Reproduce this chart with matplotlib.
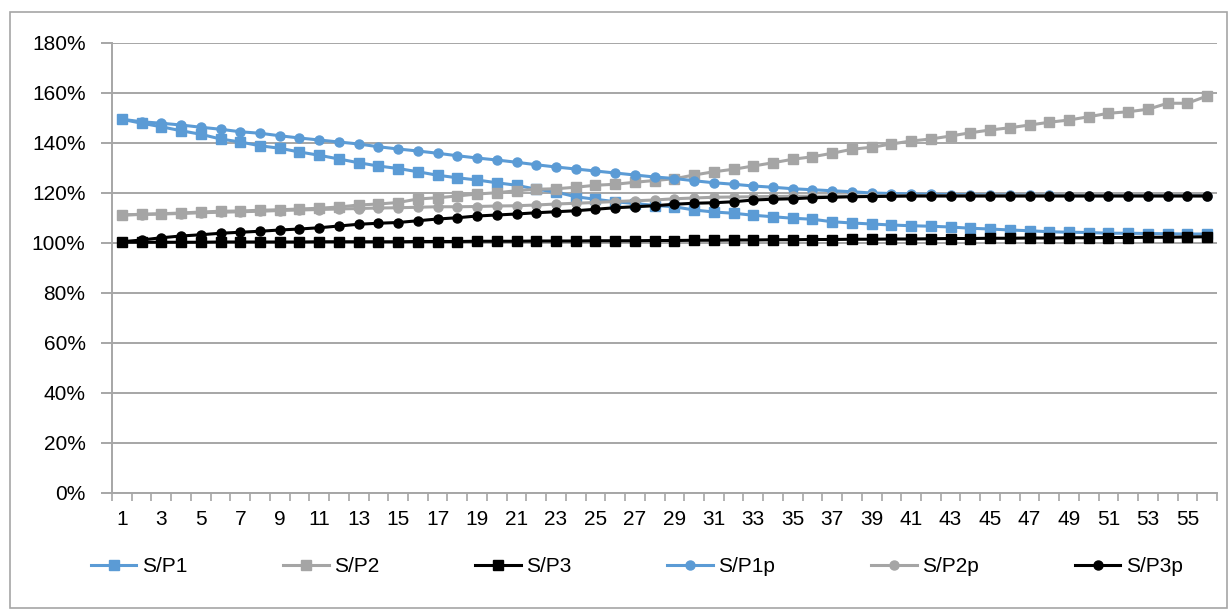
import numpy as np
import matplotlib.pyplot as plt
from matplotlib.patches import Rectangle
from matplotlib.ticker import PercentFormatter

plt.rcParams['font.family'] = ['Liberation Sans', 'DejaVu Sans']

# Номери точок
x = np.arange(1, 57)

# Значення рядів (частки, 1.0 = 100%)
sp1 = [1.495, 1.479, 1.465, 1.449, 1.435, 1.416, 1.404, 1.389, 1.379, 1.364,
       1.351, 1.336, 1.321, 1.308, 1.298, 1.285, 1.271, 1.261, 1.252, 1.241,
       1.231, 1.215, 1.204, 1.185, 1.175, 1.165, 1.158, 1.150, 1.145, 1.132,
       1.124, 1.119, 1.111, 1.105, 1.099, 1.095, 1.085, 1.080, 1.076, 1.072,
       1.069, 1.067, 1.064, 1.059, 1.056, 1.052, 1.049, 1.045, 1.043, 1.042,
       1.039, 1.039, 1.038, 1.037, 1.036, 1.036]
sp2 = [1.112, 1.115, 1.117, 1.120, 1.124, 1.127, 1.128, 1.131, 1.133, 1.136,
       1.139, 1.144, 1.152, 1.156, 1.162, 1.176, 1.181, 1.188, 1.196, 1.201,
       1.209, 1.215, 1.217, 1.223, 1.231, 1.235, 1.243, 1.250, 1.257, 1.272,
       1.285, 1.295, 1.308, 1.321, 1.335, 1.345, 1.359, 1.375, 1.383, 1.396,
       1.408, 1.416, 1.428, 1.441, 1.452, 1.461, 1.472, 1.483, 1.492, 1.505,
       1.519, 1.525, 1.535, 1.559, 1.559, 1.588]
sp3 = [1.003, 1.003, 1.003, 1.003, 1.003, 1.004, 1.004, 1.004, 1.004, 1.004,
       1.005, 1.005, 1.005, 1.005, 1.005, 1.006, 1.006, 1.006, 1.007, 1.007,
       1.007, 1.008, 1.008, 1.008, 1.009, 1.009, 1.009, 1.010, 1.010, 1.011,
       1.011, 1.012, 1.012, 1.013, 1.013, 1.014, 1.014, 1.015, 1.015, 1.016,
       1.016, 1.017, 1.018, 1.018, 1.019, 1.019, 1.020, 1.020, 1.021, 1.021,
       1.022, 1.022, 1.023, 1.023, 1.024, 1.025]
sp1p = [1.495, 1.485, 1.479, 1.472, 1.463, 1.455, 1.445, 1.439, 1.429, 1.420,
        1.412, 1.404, 1.396, 1.385, 1.376, 1.368, 1.359, 1.349, 1.340, 1.332,
        1.323, 1.313, 1.304, 1.296, 1.288, 1.280, 1.272, 1.264, 1.258, 1.249,
        1.241, 1.235, 1.228, 1.223, 1.217, 1.213, 1.209, 1.205, 1.200, 1.198,
        1.196, 1.195, 1.194, 1.193, 1.192, 1.192, 1.191, 1.191, 1.190, 1.190,
        1.190, 1.190, 1.190, 1.190, 1.190, 1.190]
sp2p = [1.112, 1.114, 1.116, 1.118, 1.121, 1.123, 1.125, 1.127, 1.130, 1.132,
        1.134, 1.136, 1.138, 1.140, 1.141, 1.143, 1.145, 1.145, 1.146, 1.148,
        1.149, 1.152, 1.156, 1.159, 1.162, 1.166, 1.169, 1.172, 1.177, 1.180,
        1.183, 1.184, 1.185, 1.186, 1.187, 1.187, 1.188, 1.188, 1.188, 1.189,
        1.189, 1.189, 1.189, 1.189, 1.189, 1.189, 1.189, 1.189, 1.189, 1.189,
        1.189, 1.189, 1.189, 1.189, 1.189, 1.189]
sp3p = [1.005, 1.012, 1.021, 1.028, 1.033, 1.039, 1.043, 1.047, 1.052, 1.056,
        1.061, 1.068, 1.075, 1.079, 1.082, 1.089, 1.096, 1.101, 1.108, 1.112,
        1.116, 1.121, 1.125, 1.129, 1.135, 1.141, 1.145, 1.149, 1.155, 1.159,
        1.161, 1.165, 1.172, 1.175, 1.177, 1.181, 1.183, 1.185, 1.186, 1.187,
        1.188, 1.188, 1.188, 1.188, 1.188, 1.188, 1.188, 1.188, 1.188, 1.188,
        1.188, 1.188, 1.188, 1.188, 1.188, 1.188]

names = ['S/P1', 'S/P2', 'S/P3', 'S/P1p', 'S/P2p', 'S/P3p']
blue, gray, black = '#5B9BD5', '#A5A5A5', '#000000'

fig = plt.figure(figsize=(12.29, 6.10), dpi=100)
ax = fig.add_axes([112 / 1229, 1 - 493 / 610, 1105 / 1229, 450 / 610])

series = [(sp1, blue, 's'), (sp2, gray, 's'), (sp3, black, 's'),
          (sp1p, blue, 'o'), (sp2p, gray, 'o'), (sp3p, black, 'o')]
for (vals, col, mk), name in zip(series, names):
    ms = 7 if mk == 's' else 6.5
    ax.plot(x, vals, color=col, lw=2.2, marker=mk, ms=ms, label=name, zorder=3)

ax.set_xlim(0.5, 56.5)
ax.set_ylim(0, 1.8)
ax.set_yticks(np.arange(0, 1.81, 0.2))
ax.yaxis.set_major_formatter(PercentFormatter(1.0, decimals=0))
ax.set_xticks(np.arange(1, 56, 2))
ax.set_xticks(np.arange(0.5, 57, 1), minor=True)

ax.grid(axis='y', color='#A6A6A6', lw=1.4, zorder=0)
for s in ['top', 'right']:
    ax.spines[s].set_visible(False)
for s in ['left', 'bottom']:
    ax.spines[s].set_color('#A6A6A6')
    ax.spines[s].set_linewidth(1.4)

ax.tick_params(axis='y', length=8, width=1.4, color='#A6A6A6', labelsize=15, pad=11)
ax.tick_params(axis='x', which='major', length=0, labelsize=15, pad=12)
ax.tick_params(axis='x', which='minor', length=6, width=1.2, color='#A6A6A6')

fig.legend(loc='center', bbox_to_anchor=(0.518, 0.0705), ncol=6, frameon=False,
           fontsize=15, handlelength=2.2, handletextpad=0.25, columnspacing=4.6)

fig.add_artist(Rectangle((10 / 1229, 2 / 610), 1217 / 1229, 596 / 610,
                         transform=fig.transFigure, fill=False,
                         edgecolor='#A6A6A6', lw=1.2))

fig.savefig('out.png', dpi=100)
